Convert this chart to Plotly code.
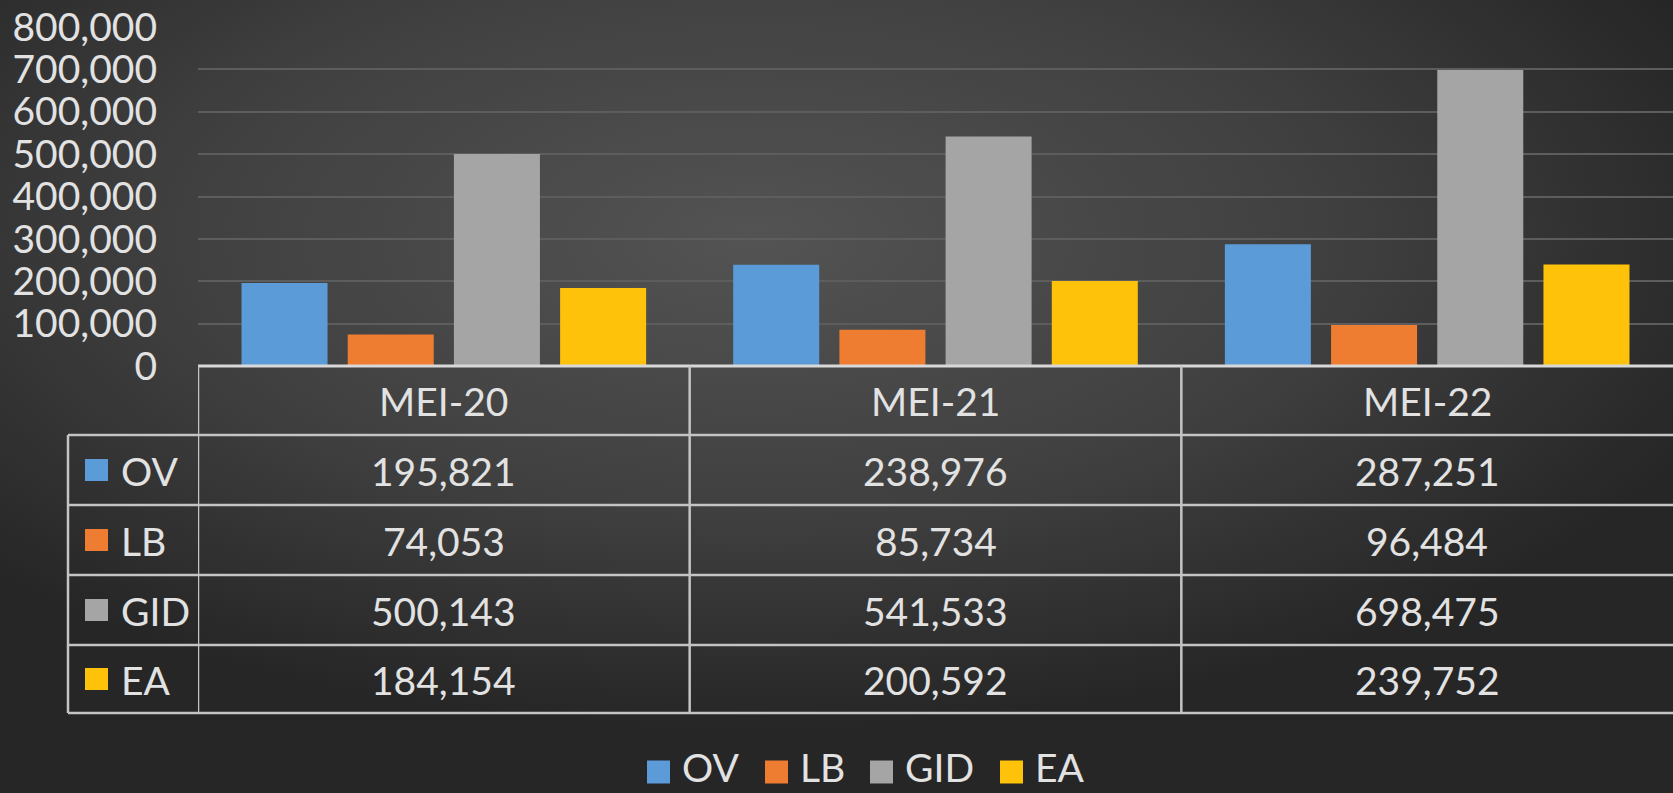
import base64
import plotly.graph_objects as go

# ---------------- data ----------------
categories = ["MEI-20", "MEI-21", "MEI-22"]
series_names = ["OV", "LB", "GID", "EA"]
ov_values = [195821, 238976, 287251]
lb_values = [74053, 85734, 96484]
gid_values = [500143, 541533, 698475]
ea_values = [184154, 200592, 239752]
series_values = [ov_values, lb_values, gid_values, ea_values]
y_tick_values = [0, 100000, 200000, 300000, 400000, 500000, 600000, 700000, 800000]

# ---------------- style ----------------
colors = ["#5B9BD8", "#EE7D32", "#A5A5A5", "#FFC20A"]
FONT = "Lato"
TXT = "#e2e2e2"
FS = 39
LINE = "#c4c4c4"

W, H = 1673, 793
L, R, T, B = 198, 0, 27, 427
PW, PH = W - L - R, H - T - B


def xp(px):
    return (px - L) / PW


def yp(py):
    return (H - B - py) / PH


fig = go.Figure()
for name, vals, col in zip(series_names, series_values, colors):
    fig.add_trace(go.Bar(x=categories, y=vals, name=name, marker_color=col,
                         marker_line_width=0, showlegend=False))

# background radial gradient
svg = (
    f'<svg xmlns="http://www.w3.org/2000/svg" width="{W}" height="{H}" preserveAspectRatio="none">'
    '<defs><radialGradient id="g" cx="0.45" cy="0.3" r="0.62">'
    '<stop offset="0" stop-color="#535353"/><stop offset="0.55" stop-color="#404040"/>'
    '<stop offset="1" stop-color="#262626"/></radialGradient></defs>'
    f'<rect width="{W}" height="{H}" fill="url(#g)"/></svg>'
)
src = "data:image/svg+xml;base64," + base64.b64encode(svg.encode()).decode()

shapes = []
annotations = []

row_edges = [366, 435, 505, 575, 645, 713]
tab_left, lab_right = 68, 198

# horizontal lines
shapes.append(dict(type="line", xref="paper", yref="paper", x0=xp(lab_right), x1=1.0,
                   y0=yp(366), y1=yp(366), line=dict(color="#d8d8d8", width=3)))
for py in row_edges[1:]:
    shapes.append(dict(type="line", xref="paper", yref="paper", x0=xp(tab_left), x1=1.0,
                       y0=yp(py), y1=yp(py), line=dict(color=LINE, width=2.5)))
# vertical lines
shapes.append(dict(type="line", xref="paper", yref="paper", x0=xp(tab_left), x1=xp(tab_left),
                   y0=yp(435), y1=yp(713), line=dict(color=LINE, width=2.5)))
for xc in [-0.5, 0.5, 1.5]:
    shapes.append(dict(type="line", xref="x", yref="paper", x0=xc, x1=xc,
                       y0=yp(366), y1=yp(713), line=dict(color=LINE, width=2.5)))

# header
for c in categories:
    annotations.append(dict(xref="x", yref="paper", x=c, y=yp(401), text=c, showarrow=False,
                            xanchor="center", yanchor="middle",
                            font=dict(family=FONT, size=FS, color=TXT)))
# rows
for i, (name, vals, col) in enumerate(zip(series_names, series_values, colors)):
    cy = (row_edges[i + 1] + row_edges[i + 2]) / 2
    shapes.append(dict(type="rect", xref="paper", yref="paper", x0=xp(85), x1=xp(108),
                       y0=yp(cy - 11), y1=yp(cy + 11), fillcolor=col, line=dict(width=0)))
    annotations.append(dict(xref="paper", yref="paper", x=xp(119), y=yp(cy + 1), text=name,
                            showarrow=False, xanchor="left", yanchor="middle",
                            font=dict(family=FONT, size=FS, color=TXT)))
    for c, v in zip(categories, vals):
        annotations.append(dict(xref="x", yref="paper", x=c, y=yp(cy + 1), text=f"{v:,}",
                                showarrow=False, xanchor="center", yanchor="middle",
                                font=dict(family=FONT, size=FS, color=TXT)))

# bottom legend (kept fully inside the canvas)
legend_x = [647, 765, 870, 1000]
leg_sq_cy = 772
for name, col, lx in zip(series_names, colors, legend_x):
    shapes.append(dict(type="rect", xref="paper", yref="paper", x0=xp(lx), x1=xp(lx + 23),
                       y0=yp(leg_sq_cy - 11.5), y1=yp(leg_sq_cy + 11.5), fillcolor=col,
                       line=dict(width=0)))
    annotations.append(dict(xref="paper", yref="paper", x=xp(lx + 33), y=yp(H - 1), text=name,
                            showarrow=False, xanchor="left", yanchor="bottom",
                            font=dict(family=FONT, size=FS, color=TXT)))

fig.update_layout(
    width=W, height=H,
    margin=dict(l=L, r=R, t=T, b=B, pad=0),
    paper_bgcolor="#3a3a3a",
    plot_bgcolor="rgba(0,0,0,0)",
    barmode="group", bargap=0.136, bargroupgap=0.19,
    showlegend=False,
    images=[dict(source=src, xref="paper", yref="paper", x=-L / PW, y=(H - B) / PH,
                 sizex=W / PW, sizey=H / PH, xanchor="left", yanchor="top",
                 sizing="stretch", layer="below")],
    shapes=shapes,
    annotations=annotations,
    xaxis=dict(type="category", range=[-0.5, 2.5], showticklabels=False, showgrid=False,
               zeroline=False, showline=False, fixedrange=True),
    yaxis=dict(range=[0, 800000], tickvals=y_tick_values, tickformat=",",
               showgrid=True, gridcolor="#5d5d5d", gridwidth=1.5, zeroline=False,
               showline=False, ticks="", ticklabelstandoff=40,
               tickfont=dict(family=FONT, size=39, color=TXT)),
)

fig.write_html("out.html", config={"displayModeBar": False},
               post_script="document.body.style.margin='0';document.body.style.overflow='hidden';")
